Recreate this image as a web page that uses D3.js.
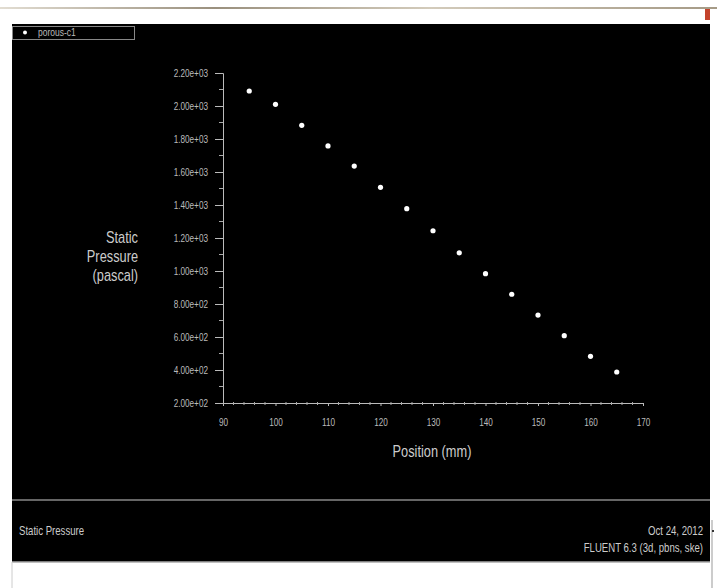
<!DOCTYPE html>
<html>
<head>
<meta charset="utf-8">
<script src="https://cdn.jsdelivr.net/npm/d3@7"></script>
<style>
  body { margin: 0; background: #fff; }
  svg text { font-family: "Liberation Sans Narrow", "Arial Narrow", "Liberation Sans", sans-serif; }
</style>
</head>
<body>
<div id="plot"></div>
<script>
// values
var positions = [95, 100, 105, 110, 115, 120, 125, 130, 135, 140, 145, 150, 155, 160, 165];
var pressures = [2091, 2010, 1883, 1758, 1636, 1507, 1378, 1244, 1110, 984, 859, 733, 608, 483, 388];
var xTicks = [90, 100, 110, 120, 130, 140, 150, 160, 170];
var yTicks = [200, 400, 600, 800, 1000, 1200, 1400, 1600, 1800, 2000, 2200];
var seriesName = "porous-c1";

var w = 717, h = 588;

var svg = d3.select("#plot").append("svg")
    .attr("width", w)
    .attr("height", h);

// squeeze text horizontally so it looks like the narrow fluent font
function narrow(sel, factor) {
    sel.each(function() {
        var t = d3.select(this);
        var x = +t.attr("x") || 0, y = +t.attr("y") || 0;
        t.attr("x", 0).attr("y", 0)
            .attr("transform", "translate(" + x + "," + y + ") scale(" + factor + ",1)");
    });
}

// window chrome at the top
var grad = svg.append("defs").append("linearGradient").attr("id", "topline");
grad.append("stop").attr("offset", "0%").attr("stop-color", "#e2ddd2");
grad.append("stop").attr("offset", "30%").attr("stop-color", "#9a907e");
grad.append("stop").attr("offset", "60%").attr("stop-color", "#d3cbbb");
grad.append("stop").attr("offset", "100%").attr("stop-color", "#a59a86");
svg.append("rect").attr("x", 0).attr("y", 7).attr("width", w).attr("height", 2).attr("fill", "url(#topline)");
svg.append("rect").attr("x", 705).attr("y", 9).attr("width", 5).attr("height", 11).attr("fill", "#c4432c");

// black plot window and the bottom caption panel
svg.append("rect").attr("x", 12).attr("y", 24).attr("width", 698).attr("height", 538).attr("fill", "#000");
svg.append("line").attr("x1", 12).attr("x2", 710).attr("y1", 500).attr("y2", 500).attr("stroke", "#888").attr("stroke-width", 1.5);
svg.append("line").attr("x1", 12).attr("x2", 710).attr("y1", 562).attr("y2", 562).attr("stroke", "#aaa").attr("stroke-width", 1.5);
svg.append("line").attr("x1", 12).attr("x2", 12).attr("y1", 562).attr("y2", h).attr("stroke", "#ccc");
svg.append("line").attr("x1", 712).attr("x2", 712).attr("y1", 520).attr("y2", h).attr("stroke", "#999");
svg.append("rect").attr("x", 712).attr("y", 530).attr("width", 2).attr("height", 2).attr("fill", "#333");

// legend
svg.append("rect").attr("x", 12.5).attr("y", 26.5).attr("width", 122).attr("height", 13)
    .attr("fill", "none").attr("stroke", "#888");
svg.append("circle").attr("cx", 25).attr("cy", 32.5).attr("r", 2).attr("fill", "#fff");
svg.append("text").attr("x", 38).attr("y", 36).attr("fill", "#bbb").attr("font-size", 10)
    .text(seriesName).call(narrow, 0.85);

var xScale = d3.scaleLinear().domain([90, 170]).range([223, 643]);
var yScale = d3.scaleLinear().domain([200, 2200]).range([403, 73]);

function sci(d) { // 2.20e+03 style like fluent
    var e = Math.floor(Math.log10(d));
    var m = d / Math.pow(10, e);
    return m.toFixed(2) + "e+" + (e < 10 ? "0" + e : e);
}

var x_axis = d3.axisBottom(xScale).tickValues(xTicks).tickSize(3).tickPadding(13).tickFormat(d3.format("d"));
var y_axis = d3.axisLeft(yScale).tickValues(yTicks).tickSize(8).tickPadding(7).tickFormat(sci);

var gx = svg.append("g").attr("transform", "translate(0,403)").call(x_axis);
var gy = svg.append("g").attr("transform", "translate(223,0)").call(y_axis);

// minor ticks
svg.append("g").selectAll("line")
    .data(d3.range(92, 170, 2).filter(function(v) { return v % 10 !== 0; }))
    .enter().append("line")
    .attr("x1", function(d) { return xScale(d); }).attr("x2", function(d) { return xScale(d); })
    .attr("y1", 402).attr("y2", 405)
    .attr("stroke", "#aaa");
svg.append("g").selectAll("line")
    .data(d3.range(300, 2200, 200))
    .enter().append("line")
    .attr("x1", 219).attr("x2", 223)
    .attr("y1", function(d) { return yScale(d); }).attr("y2", function(d) { return yScale(d); })
    .attr("stroke", "#aaa");

[gx, gy].forEach(function(g) {
    g.select(".domain").attr("stroke", "#bbb");
    g.selectAll(".tick line").attr("stroke", "#bbb");
    g.selectAll(".tick text").attr("fill", "#bbb").attr("font-size", 10.5)
        .style("font-family", "'Liberation Sans Narrow', 'Arial Narrow', 'Liberation Sans', sans-serif")
        .each(function() {
            // keep the axis' own offsets, just squeeze sideways
            var t = d3.select(this);
            var x = +t.attr("x") || 0, y = +t.attr("y") || 0;
            t.attr("x", 0).attr("y", 0).attr("transform", "translate(" + x + "," + y + ") scale(0.78,1)");
        });
});

// data points
svg.append("g").selectAll("circle")
    .data(positions)
    .enter().append("circle")
    .attr("cx", function(d) { return xScale(d); })
    .attr("cy", function(d, i) { return yScale(pressures[i]); })
    .attr("r", 2.6)
    .attr("fill", "#fff");

// axis titles
var ylab = ["Static", "Pressure", "(pascal)"];
svg.append("g").selectAll("text")
    .data(ylab)
    .enter().append("text")
    .attr("x", 138)
    .attr("y", function(d, i) { return 243 + i * 19; })
    .attr("text-anchor", "end")
    .attr("font-size", 16)
    .attr("fill", "#ccc")
    .text(function(d) { return d; })
    .call(narrow, 0.8);

svg.append("text").attr("x", 432).attr("y", 457).attr("text-anchor", "middle")
    .attr("font-size", 16).attr("fill", "#ccc").text("Position (mm)").call(narrow, 0.8);

// caption panel text
svg.append("text").attr("x", 19).attr("y", 535).attr("font-size", 12).attr("fill", "#ccc")
    .text("Static Pressure").call(narrow, 0.8);
svg.append("text").attr("x", 703).attr("y", 535).attr("text-anchor", "end").attr("font-size", 12).attr("fill", "#ccc")
    .text("Oct 24, 2012").call(narrow, 0.8);
svg.append("text").attr("x", 703).attr("y", 552).attr("text-anchor", "end").attr("font-size", 12).attr("fill", "#ccc")
    .text("FLUENT 6.3 (3d, pbns, ske)").call(narrow, 0.8);
</script>
</body>
</html>
